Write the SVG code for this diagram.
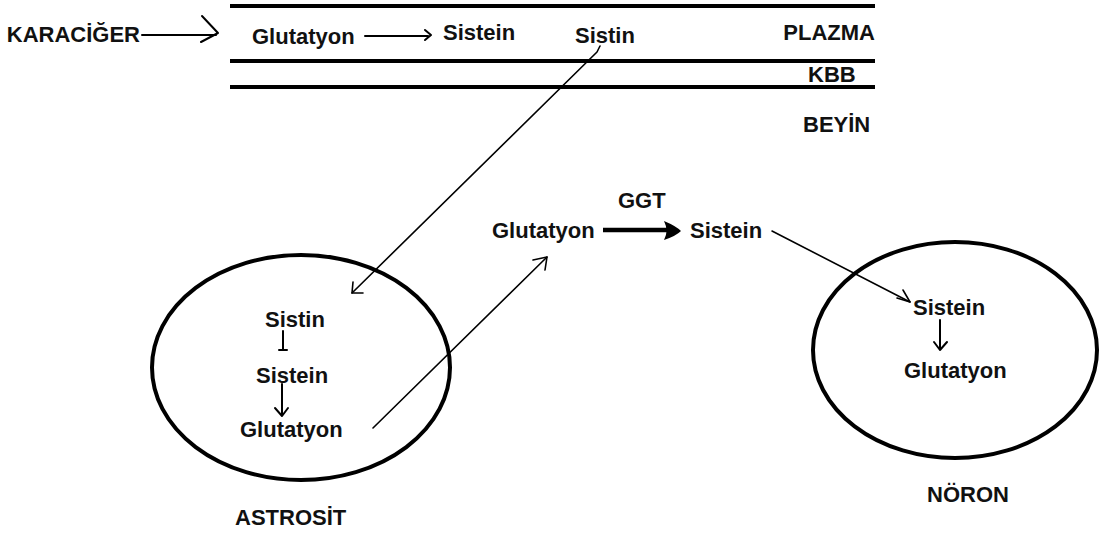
<svg xmlns="http://www.w3.org/2000/svg" width="1101" height="539" viewBox="0 0 1101 539">
  <style>
    .t { font-family: "Liberation Sans", Arial, sans-serif; font-weight: bold; font-size: 22px; fill: #111; }
    .bar { stroke: #000; stroke-width: 4; }
    .cell { fill: none; stroke: #000; stroke-width: 4; }
    .ln { fill: none; stroke: #000; stroke-width: 2; stroke-linecap: round; stroke-linejoin: round; }
    .thin { fill: none; stroke: #000; stroke-width: 1.6; stroke-linecap: round; stroke-linejoin: round; }
    .thick { fill: none; stroke: #000; stroke-width: 4.5; }
  </style>
  <rect width="1101" height="539" fill="#fff"/>

  <!-- plasma / blood-brain barrier layers -->
  <g id="layers">
    <line class="bar" x1="230" y1="6" x2="875" y2="6"/>
    <line class="bar" x1="230" y1="61" x2="875" y2="61"/>
    <line class="bar" x1="230" y1="87" x2="875" y2="87"/>
    <text class="t" x="875" y="40" text-anchor="end">PLAZMA</text>
    <text class="t" x="808" y="82">KBB</text>
    <text class="t" x="803" y="132">BEYİN</text>
  </g>

  <g id="karaciger">
    <text class="t" x="140" y="42" text-anchor="end">KARACİĞER</text>
  </g>

  <g id="plasma-glutatyon"><text class="t" x="252" y="44">Glutatyon</text></g>
  <g id="plasma-sistein"><text class="t" x="443" y="40">Sistein</text></g>
  <g id="plasma-sistin"><text class="t" x="575" y="43">Sistin</text></g>

  <g id="astrosit">
    <ellipse class="cell" cx="301" cy="367.5" rx="149" ry="112.5"/>
    <text class="t" x="265" y="327">Sistin</text>
    <text class="t" x="256" y="383">Sistein</text>
    <text class="t" x="240" y="437">Glutatyon</text>
    <path class="ln" d="M283 331 V350 M279 350 H287"/>
    <path class="ln" d="M282 384 V416 M275 408 L282 416 L288 408"/>
    <text class="t" x="235" y="525">ASTROSİT</text>
  </g>

  <g id="extracellular-glutatyon"><text class="t" x="492" y="238">Glutatyon</text></g>
  <g id="ggt"><text class="t" x="618" y="208">GGT</text></g>
  <g id="extracellular-sistein"><text class="t" x="690" y="238">Sistein</text></g>

  <g id="noron">
    <ellipse class="cell" cx="955" cy="350" rx="142" ry="108"/>
    <text class="t" x="913" y="315">Sistein</text>
    <text class="t" x="904" y="378">Glutatyon</text>
    <path class="ln" d="M940 320 V350 M934 342 L940 350 L947 342"/>
    <text class="t" x="927" y="502">NÖRON</text>
  </g>

  <g id="connectors">
    <!-- liver to plasma -->
    <path class="ln" d="M142 35 H216"/>
    <path class="ln" d="M202 16 L218 33 L201 42"/>
    <!-- glutathione to cysteine in plasma -->
    <path class="ln" d="M365 36 H428"/>
    <path class="ln" d="M425 30 L431 35 L425 40"/>
    <!-- cystine across the barrier into the astrocyte -->
    <path class="thin" d="M600 46 L597 52 L352 293"/>
    <path class="thin" d="M353 282 L352 293 L363 293"/>
    <!-- astrocyte glutathione released -->
    <path class="thin" d="M373 428 L547 257"/>
    <path class="thin" d="M533 260 L547 257 L545 270"/>
    <!-- GGT cleavage -->
    <path class="thick" d="M603 230 H670"/>
    <path d="M664 221 Q676 226 681 231 Q676 236 664 240 Q669 231 664 221 Z" fill="#000"/>
    <!-- cysteine uptake by neuron -->
    <path class="thin" d="M772 231 L910 302"/>
    <path class="thin" d="M897 298 L910 302 L903 290"/>
  </g>
</svg>
